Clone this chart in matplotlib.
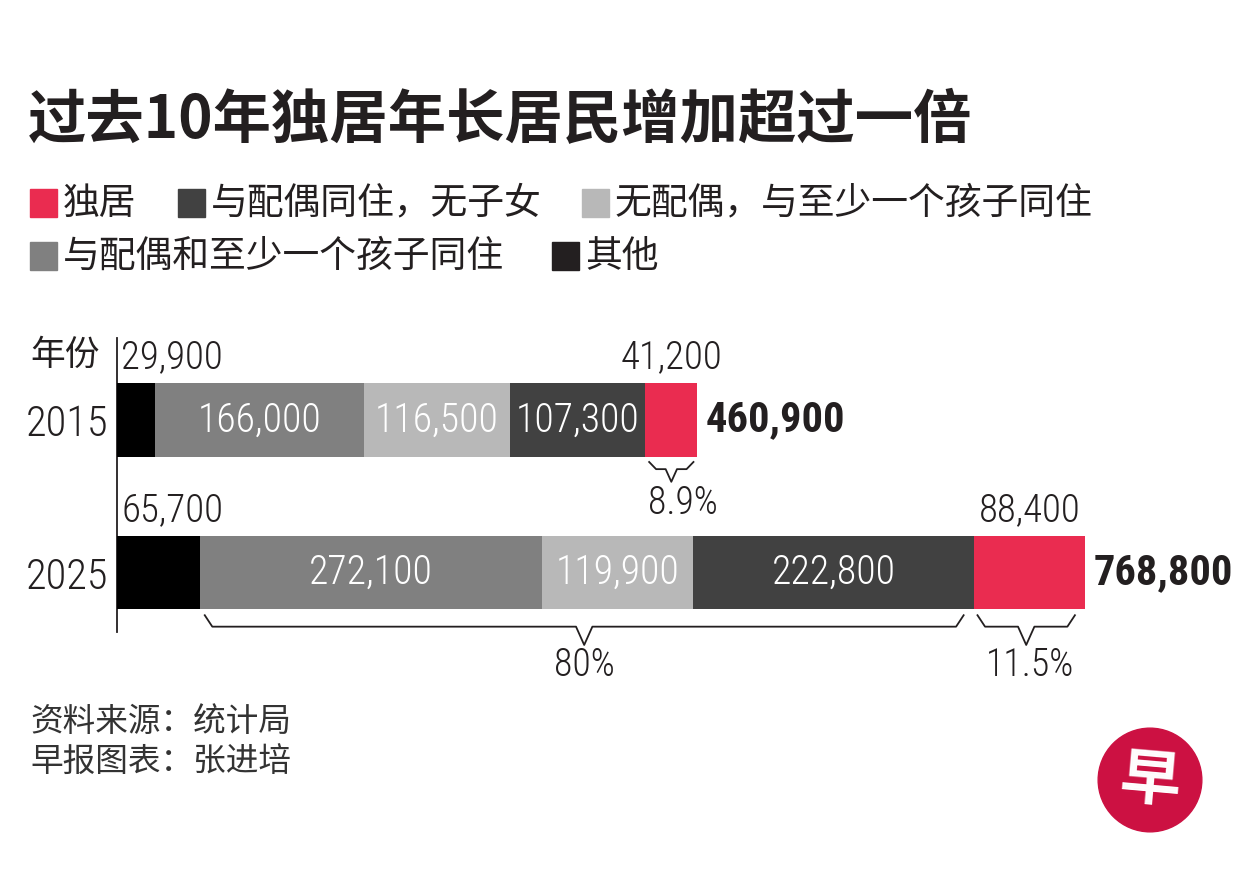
import numpy as np
import matplotlib
matplotlib.use('Agg')
import matplotlib.pyplot as plt
from matplotlib import font_manager as fm
from matplotlib.textpath import TextPath
from matplotlib.patches import Rectangle, Circle

# data
years = ['2015', '2025']
other = [29900, 65700]              # 其他
spouse_kids = [166000, 272100]      # 与配偶和至少一个孩子同住
single_kids = [116500, 119900]      # 无配偶，与至少一个孩子同住
spouse_only = [107300, 222800]      # 与配偶同住，无子女
alone = [41200, 88400]              # 独居
totals = [460900, 768800]
alone_pct = ['8.9%', '11.5%']
family_pct = '80%'

legend_labels = ['独居', '与配偶同住，无子女', '无配偶，与至少一个孩子同住',
                 '与配偶和至少一个孩子同住', '其他']

RED = '#ea2c50'
DARK = '#414141'
LIGHT = '#b8b8b8'
MID = '#808080'
BLACK = '#000000'
TXT = '#231f20'

CJK = ['Noto Sans CJK SC', 'DejaVu Sans']

# pick a narrow latin face for the numbers if one is installed
entries = fm.fontManager.ttflist
names = {f.name for f in entries}
num_name, num_stretch = None, 'normal'
for cand in ['Roboto Condensed', 'Liberation Sans Narrow', 'Noto Sans Condensed',
             'Open Sans Condensed', 'DejaVu Sans Condensed']:
    if cand in names:
        num_name = cand
        break
if num_name is None:
    for f in entries:
        if ('Condensed' in f.name or 'Narrow' in f.name) and 'Mono' not in f.name \
                and 'Serif' not in f.name and 'CJK' not in f.name:
            num_name = f.name
            break
if num_name is None:
    for f in entries:
        if f.name in ('DejaVu Sans', 'Noto Sans', 'Open Sans', 'Roboto') and \
                str(f.stretch) in ('condensed', 'semi-condensed'):
            num_name, num_stretch = f.name, 'condensed'
            break
if num_name is None:
    num_name = 'Liberation Sans'
NUM = dict(family=[num_name, 'DejaVu Sans'], stretch=num_stretch)
LIGHTW = 'light'


def size_for(text, target_px, weight='normal'):
    prop = fm.FontProperties(family=NUM['family'], stretch=num_stretch, weight=weight)
    w = TextPath((0, 0), text, size=100, prop=prop).get_extents().width
    return 100 * (target_px * 0.72) / w


base = min(size_for('107,300', 118, LIGHTW), 36)
tot_size = min(size_for('460,900', 136, 'bold'), 40)

W, H = 1251, 876
fig = plt.figure(figsize=(W / 100, H / 100), dpi=100)
fig.patch.set_facecolor('white')


def fx(px):
    return px / W


def fy(py):
    return 1 - py / H


# title
fig.text(fx(28), fy(121), '过去10年独居年长居民增加超过一倍', family=CJK,
         fontsize=42, fontweight='bold', color=TXT, ha='left', va='center')

# legend (square left px, row centre px)
legend_pos = [(30, 203), (178, 203), (582, 203), (30, 256), (552, 256)]
legend_cols = [RED, DARK, LIGHT, MID, '#231f20']
for (lx, ly), lab, c in zip(legend_pos, legend_labels, legend_cols):
    fig.patches.append(Rectangle((fx(lx), fy(ly + 14)), 27 / W, 28 / H,
                                 transform=fig.transFigure, color=c))
    fig.text(fx(lx + 33), fy(ly), lab, family=CJK, fontsize=26.5,
             color=TXT, ha='left', va='center')

# bars
ax = fig.add_axes([fx(117), fy(632), (1085 - 117) / W, (632 - 338) / H])
y = np.arange(len(years))
segments = [other, spouse_kids, single_kids, spouse_only, alone]
seg_colors = [BLACK, MID, LIGHT, DARK, RED]
left = np.zeros(len(years))
for vals, c in zip(segments, seg_colors):
    ax.barh(y, vals, left=left, height=0.48, color=c, zorder=3)
    left += np.array(vals)
ends = left.copy()

ax.set_xlim(0, ends.max())
ax.set_ylim(1.39, -0.538)
for s in ['top', 'right', 'bottom']:
    ax.spines[s].set_visible(False)
ax.spines['left'].set_linewidth(1.3)
ax.spines['left'].set_color(TXT)
ax.set_xticks([])
ax.set_yticks(y, years)
ax.tick_params(axis='y', length=0, pad=6, labelsize=base * 1.07, labelcolor=TXT)
for t in ax.get_yticklabels():
    t.set_family(NUM['family'])
    t.set_fontstretch(num_stretch)
    t.set_fontweight(LIGHTW)

starts = np.cumsum([np.zeros(2)] + segments[:-1], axis=0)

# white labels inside the middle segments
for k in (1, 2, 3):
    for i in range(len(years)):
        ax.text(starts[k][i] + segments[k][i] / 2, y[i], f'{segments[k][i]:,}',
                fontsize=base, fontweight=LIGHTW, color='white', ha='center',
                va='center', zorder=4, **NUM)

# labels above the bars
for i in range(len(years)):
    ax.annotate(f'{other[i]:,}', xy=(0, y[i] - 0.41), xytext=(3, 0),
                textcoords='offset points', fontsize=base * 0.98, fontweight=LIGHTW,
                color=TXT, ha='left', va='center', annotation_clip=False, **NUM)
    ax.text(starts[4][i] + alone[i] / 2, y[i] - 0.41, f'{alone[i]:,}',
            fontsize=base * 0.98, fontweight=LIGHTW, color=TXT, ha='center',
            va='center', **NUM)
    ax.annotate(f'{totals[i]:,}', xy=(ends[i], y[i]), xytext=(6, 0),
                textcoords='offset points', fontsize=tot_size,
                fontweight='bold', color=TXT, ha='left', va='center',
                annotation_clip=False, **NUM)


def brace(x0, x1, ytop, ymid, ytip, dx, dv):
    xm = (x0 + x1) / 2
    xs = [x0, x0 + dx, xm - dv, xm, xm + dv, x1 - dx, x1]
    ys = [ytop, ymid, ymid, ytip, ymid, ymid, ytop]
    ax.plot(xs, ys, color=TXT, lw=1.3, clip_on=False,
            solid_joinstyle='round')
    return xm


pct_size = base * 0.95

# 2015 living alone share
xm = brace(starts[4][0] + 3000, ends[0] - 3000, 0.275, 0.322, 0.405, 5500, 4500)
ax.annotate(alone_pct[0], xy=(xm, 0.545), xytext=(8, 0), textcoords='offset points',
            fontsize=pct_size, fontweight=LIGHTW, color=TXT, ha='center',
            va='center', annotation_clip=False, **NUM)

# 2025 with family share
xm = brace(starts[1][1] + 4000, starts[4][1] - 8000, 1.28, 1.355, 1.475, 6000, 6500)
ax.text(xm, 1.605, family_pct, fontsize=pct_size, fontweight=LIGHTW, color=TXT,
        ha='center', va='center', clip_on=False, **NUM)

# 2025 living alone share
xm = brace(starts[4][1] + 3000, ends[1] - 8000, 1.28, 1.355, 1.475, 6000, 6500)
ax.annotate(alone_pct[1], xy=(xm, 1.605), xytext=(3, 0), textcoords='offset points',
            fontsize=pct_size, fontweight=LIGHTW, color=TXT, ha='center',
            va='center', annotation_clip=False, **NUM)

# axis caption
fig.text(fx(30), fy(355), '年份', family=CJK, fontsize=25, color=TXT,
         ha='left', va='center')

# source lines
fig.text(fx(30), fy(722), '资料来源：统计局', family=CJK, fontsize=23.5,
         color='#333333', ha='left', va='center')
fig.text(fx(30), fy(763), '早报图表：张进培', family=CJK, fontsize=23.5,
         color='#333333', ha='left', va='center')

# logo
lax = fig.add_axes([fx(1096), fy(834), 108 / W, 108 / H])
lax.set_xlim(0, 1)
lax.set_ylim(0, 1)
lax.set_aspect('equal')
lax.axis('off')
lax.add_patch(Circle((0.5, 0.5), 0.48, color='#cc1142'))
lax.text(0.5, 0.48, '早', family=CJK, fontsize=44, fontweight='bold',
         color='white', ha='center', va='center', rotation=-5)

fig.savefig('out.png', dpi=100, facecolor='white')
